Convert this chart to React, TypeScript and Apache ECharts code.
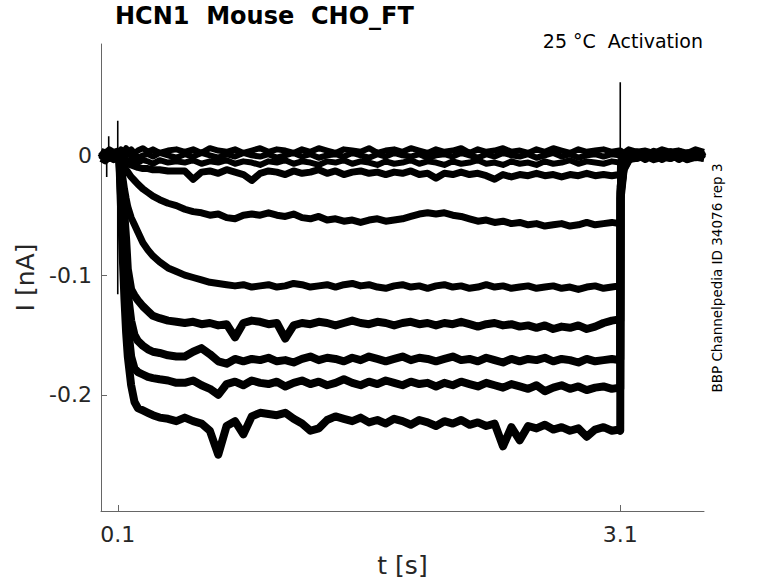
import React, { useEffect, useRef } from "react";
import * as echarts from "echarts";

// time grid (s)
const T = [
  0, 0.025, 0.05, 0.075, 0.1,
  0.11, 0.12, 0.13, 0.14, 0.15, 0.16, 0.18, 0.2, 0.22, 0.25, 0.28, 0.31, 0.35, 0.4, 0.45,
  0.5, 0.55, 0.6, 0.65, 0.7, 0.75, 0.8, 0.85, 0.9, 0.95,
  1.0, 1.05, 1.1, 1.15, 1.2, 1.25, 1.3, 1.35, 1.4, 1.45,
  1.5, 1.55, 1.6, 1.65, 1.7, 1.75, 1.8, 1.85, 1.9, 1.95,
  2.0, 2.05, 2.1, 2.15, 2.2, 2.25, 2.3, 2.35, 2.4, 2.45,
  2.5, 2.55, 2.6, 2.65, 2.7, 2.75, 2.8, 2.85, 2.9, 2.95,
  3.0, 3.05, 3.095, 3.1,
  3.102, 3.12, 3.15, 3.2, 3.25, 3.3, 3.35, 3.4, 3.45, 3.5, 3.55, 3.6,
];

// current traces (nA)
const B1 = [
  0.004, 0.002, 0.005, 0.003, 0.004,
  0.003, 0.005, 0.002, 0.004, 0.006, 0.003, 0.005, 0.002, 0.004, 0.006, 0.003, 0.005, 0.002, 0.004, 0.005,
  0.003, 0.005, 0.002, 0.006, 0.004, 0.003, 0.005, 0.002, 0.004, 0.006,
  0.003, 0.005, 0.004, 0.002, 0.005, 0.003, 0.006, 0.004, 0.002, 0.005,
  0.004, 0.003, 0.006, 0.002, 0.004, 0.005, 0.003, 0.006, 0.004, 0.002,
  0.005, 0.003, 0.004, 0.006, 0.002, 0.005, 0.003, 0.004, 0.006, 0.003,
  0.004, 0.002, 0.005, 0.003, 0.006, 0.004, 0.002, 0.005, 0.003, 0.004,
  0.005, 0.003, 0.004, 0.003,
  0.004, 0.002, 0.005, 0.003, 0.004, 0.002, 0.005, 0.003, 0.004, 0.002, 0.005, 0.003,
];
const B2 = [
  0, -0.002, 0.001, -0.001, 0.002,
  0, -0.001, 0.001, -0.002, 0, 0.002, -0.001, 0.001, -0.002, 0, 0.001, -0.001, 0.002, 0, -0.002,
  0.001, -0.001, 0.002, 0, -0.002, 0.001, -0.001, 0.002, 0, -0.001,
  0.001, -0.002, 0, 0.002, -0.001, 0.001, -0.002, 0, 0.001, -0.001,
  0.002, 0, -0.002, 0.001, -0.001, 0.002, 0, -0.001, 0.001, -0.002,
  0, 0.001, -0.001, 0.002, 0, -0.002, 0.001, -0.001, 0.002, 0,
  -0.001, 0.001, -0.002, 0, 0.002, -0.001, 0.001, -0.002, 0, 0.001,
  -0.001, 0.001, 0, -0.001,
  -0.003, -0.001, 0.001, -0.001, 0.002, 0, -0.002, 0.001, -0.001, 0.002, 0, -0.001,
];
const B3 = [
  -0.003, -0.005, -0.002, -0.004, -0.003,
  -0.004, -0.006, -0.003, -0.005, -0.004, -0.006, -0.003, -0.005, -0.006, -0.004, -0.005, -0.007, -0.004, -0.006, -0.005,
  -0.006, -0.004, -0.007, -0.005, -0.006, -0.004, -0.007, -0.005, -0.006, -0.008,
  -0.005, -0.006, -0.004, -0.007, -0.005, -0.006, -0.008, -0.005, -0.006, -0.004,
  -0.007, -0.005, -0.006, -0.008, -0.005, -0.007, -0.006, -0.004, -0.007, -0.005,
  -0.006, -0.008, -0.005, -0.007, -0.006, -0.004, -0.007, -0.006, -0.008, -0.005,
  -0.007, -0.006, -0.008, -0.005, -0.007, -0.006, -0.004, -0.007, -0.005, -0.006,
  -0.007, -0.005, -0.006, -0.007,
  -0.01, -0.004, -0.002, -0.003, -0.001, -0.004, -0.002, -0.003, -0.001, -0.004, -0.002, -0.003,
];
const I2 = [
  0, -0.003, 0.002, -0.001, 0,
  -0.001, -0.003, -0.004, -0.005, -0.006, -0.007, -0.008, -0.009, -0.01, -0.011, -0.011, -0.012, -0.012, -0.013, -0.013,
  -0.013, -0.02, -0.014, -0.013, -0.015, -0.012, -0.014, -0.016, -0.021, -0.015,
  -0.013, -0.014, -0.016, -0.013, -0.015, -0.014, -0.012, -0.015, -0.013, -0.016,
  -0.014, -0.013, -0.015, -0.014, -0.016, -0.014, -0.015, -0.013, -0.016, -0.015,
  -0.019, -0.015, -0.016, -0.014, -0.016, -0.015, -0.017, -0.02, -0.016, -0.018,
  -0.016, -0.017, -0.015, -0.017, -0.016, -0.018, -0.016, -0.017, -0.015, -0.017,
  -0.016, -0.017, -0.016, -0.017,
  -0.006, -0.002, 0, 0.003, -0.001, 0.002, -0.002, 0.001, -0.001, 0.002, 0, -0.002,
];
const I3 = [
  -0.001, 0.002, 0, -0.002, 0.001,
  -0.001, -0.004, -0.007, -0.01, -0.012, -0.014, -0.018, -0.021, -0.024, -0.028, -0.031, -0.034, -0.037, -0.04, -0.042,
  -0.045, -0.047, -0.048, -0.05, -0.049, -0.052, -0.053, -0.05, -0.049, -0.05,
  -0.048, -0.05, -0.051, -0.049, -0.052, -0.053, -0.051, -0.054, -0.053, -0.055,
  -0.054, -0.056, -0.054, -0.053, -0.055, -0.054, -0.053, -0.051, -0.049, -0.048,
  -0.049, -0.048, -0.05, -0.051, -0.053, -0.055, -0.054, -0.056, -0.055, -0.057,
  -0.056, -0.058, -0.057, -0.059, -0.058, -0.057, -0.059, -0.058, -0.056, -0.058,
  -0.057, -0.056, -0.057, -0.056,
  -0.012, -0.004, -0.001, 0.002, -0.002, 0.001, -0.001, 0.003, -0.002, 0, 0.002, -0.003,
];
const I4 = [
  0.002, -0.001, 0.001, -0.002, 0.001,
  -0.002, -0.008, -0.018, -0.028, -0.036, -0.043, -0.052, -0.058, -0.064, -0.073, -0.079, -0.084, -0.089, -0.094, -0.097,
  -0.1, -0.102, -0.104, -0.106, -0.107, -0.108, -0.109, -0.108, -0.11, -0.109,
  -0.108, -0.11, -0.109, -0.107, -0.108, -0.11, -0.109, -0.108, -0.11, -0.108,
  -0.107, -0.109, -0.108, -0.11, -0.111, -0.109, -0.108, -0.11, -0.109, -0.111,
  -0.109, -0.108, -0.11, -0.109, -0.111, -0.11, -0.108, -0.11, -0.109, -0.111,
  -0.11, -0.109, -0.111, -0.11, -0.109, -0.111, -0.11, -0.112, -0.11, -0.109,
  -0.111, -0.11, -0.109, -0.11,
  -0.02, -0.007, -0.002, -0.001, 0.002, -0.002, 0.001, 0.003, -0.001, 0.002, -0.002, 0.001,
];
const I5 = [
  -0.002, 0.001, -0.001, 0.002, 0,
  -0.003, -0.015, -0.03, -0.05, -0.07, -0.095, -0.112, -0.117, -0.121, -0.126, -0.13, -0.134, -0.136, -0.138, -0.139,
  -0.14, -0.139, -0.141, -0.14, -0.142, -0.141, -0.152, -0.14, -0.138, -0.139,
  -0.141, -0.14, -0.153, -0.142, -0.14, -0.141, -0.139, -0.14, -0.142, -0.14,
  -0.138, -0.14, -0.141, -0.139, -0.14, -0.142, -0.14, -0.139, -0.141, -0.14,
  -0.142, -0.14, -0.141, -0.139, -0.141, -0.143, -0.141, -0.14, -0.142, -0.141,
  -0.143, -0.142, -0.144, -0.142, -0.145, -0.143, -0.144, -0.142, -0.145, -0.143,
  -0.14, -0.138, -0.137, -0.138,
  -0.026, -0.009, -0.002, 0.002, -0.001, 0.001, -0.003, 0.002, 0, -0.002, 0.003, -0.001,
];
const I6 = [
  0.001, -0.002, 0.002, -0.001, 0.001,
  -0.003, -0.025, -0.05, -0.075, -0.097, -0.115, -0.138, -0.15, -0.155, -0.159, -0.162, -0.164, -0.165, -0.167, -0.168,
  -0.168, -0.164, -0.161, -0.166, -0.172, -0.174, -0.17, -0.172, -0.17, -0.171,
  -0.169, -0.172, -0.171, -0.173, -0.17, -0.168, -0.171, -0.169, -0.17, -0.172,
  -0.169, -0.171, -0.168, -0.17, -0.172, -0.17, -0.168, -0.171, -0.169, -0.17,
  -0.172, -0.17, -0.168, -0.171, -0.17, -0.172, -0.169, -0.171, -0.173, -0.17,
  -0.172, -0.17, -0.171, -0.169, -0.172, -0.17, -0.171, -0.173, -0.17, -0.172,
  -0.171, -0.17, -0.171, -0.17,
  -0.03, -0.01, -0.003, 0.001, -0.003, 0.002, 0, -0.002, 0.003, -0.001, 0.001, -0.002,
];
const I7 = [
  -0.001, 0.002, -0.002, 0.001, -0.001,
  -0.004, -0.035, -0.068, -0.098, -0.122, -0.142, -0.168, -0.178, -0.181, -0.183, -0.185, -0.186, -0.187, -0.188, -0.19,
  -0.19, -0.188, -0.192, -0.195, -0.2, -0.191, -0.189, -0.192, -0.188, -0.19,
  -0.191, -0.189, -0.193, -0.19, -0.188, -0.191, -0.189, -0.192, -0.19, -0.187,
  -0.19, -0.192, -0.189, -0.191, -0.188, -0.19, -0.192, -0.189, -0.191, -0.19,
  -0.193, -0.19, -0.192, -0.189, -0.191, -0.193, -0.19, -0.192, -0.194, -0.191,
  -0.193, -0.195, -0.192, -0.197, -0.194, -0.192, -0.195, -0.193, -0.196, -0.194,
  -0.193, -0.195, -0.194, -0.195,
  -0.032, -0.011, -0.003, -0.002, 0.002, -0.001, 0.003, -0.002, 0.001, -0.003, 0.002, 0,
];
const I8 = [
  0.002, -0.003, 0.001, -0.002, 0.002,
  -0.005, -0.045, -0.085, -0.12, -0.148, -0.168, -0.192, -0.206, -0.211, -0.213, -0.215, -0.217, -0.219, -0.22, -0.222,
  -0.219, -0.222, -0.224, -0.23, -0.25, -0.226, -0.222, -0.233, -0.218, -0.215,
  -0.216, -0.217, -0.215, -0.22, -0.224, -0.23, -0.228, -0.221, -0.218, -0.22,
  -0.222, -0.219, -0.223, -0.221, -0.224, -0.22, -0.222, -0.225, -0.221, -0.223,
  -0.226, -0.222, -0.224, -0.221, -0.225, -0.223, -0.226, -0.224, -0.243, -0.227,
  -0.238, -0.226, -0.228, -0.225, -0.229, -0.227, -0.23, -0.228, -0.235, -0.229,
  -0.227, -0.23, -0.229, -0.23,
  -0.036, -0.012, -0.004, 0.002, -0.002, 0.003, -0.001, 0.002, -0.003, 0.001, 0.003, -0.002,
];

const TRACES = [B1, B2, B3, I2, I3, I4, I5, I6, I7, I8];
const TRACE_WIDTHS = [6, 6, 6, 7, 7, 7, 8, 8, 8, 8];

// stimulus artifacts (vertical spikes)
const ARTIFACT_T = [0.034, 0.046, 0.1, 3.1];
const ARTIFACT_HIGH = [-0.004, 0.016, 0.029, 0.061];
const ARTIFACT_LOW = [-0.018, 0.002, -0.116, 0];

const X_TICKS = [0.1, 3.1];
const Y_TICKS = [0, -0.1, -0.2];

const FONT = "DejaVu Sans";
const AXIS_COLOR = "#666666";
const TEXT_COLOR = "#262626";

export default function App() {
  const ref = useRef<HTMLDivElement>(null);

  useEffect(() => {
    document.body.style.margin = "0";
    if (!ref.current) return;
    const chart = echarts.init(ref.current, undefined, { renderer: "svg" });

    const traceSeries = TRACES.map((vals, k) => ({
      type: "line",
      data: T.map((t, i) => [t, vals[i]]),
      showSymbol: false,
      symbol: "none",
      silent: true,
      lineStyle: { color: "#000", width: TRACE_WIDTHS[k], join: "round" },
      z: 2,
    }));

    const artifactSeries = ARTIFACT_T.map((t, i) => ({
      type: "line",
      data: [
        [t, ARTIFACT_HIGH[i]],
        [t, ARTIFACT_LOW[i]],
      ],
      showSymbol: false,
      symbol: "none",
      silent: true,
      lineStyle: { color: "#000", width: 1.6 },
      z: 3,
    }));

    const option = {
      animation: false,
      textStyle: { fontFamily: FONT },
      grid: { left: 101, right: 74, top: 44, bottom: 71 },
      xAxis: {
        type: "value",
        min: 0,
        max: 3.6,
        axisLine: { show: true, onZero: false, lineStyle: { color: AXIS_COLOR, width: 1 } },
        axisTick: { show: true, inside: true, length: 6, customValues: X_TICKS, lineStyle: { color: AXIS_COLOR } },
        axisLabel: {
          customValues: X_TICKS,
          formatter: (v: number) => String(v),
          fontSize: 22,
          color: TEXT_COLOR,
          margin: 12,
          fontFamily: FONT,
        },
        splitLine: { show: false },
        name: "t [s]",
        nameLocation: "middle",
        nameGap: 42,
        nameTextStyle: { fontSize: 25, color: TEXT_COLOR, fontFamily: FONT },
      },
      yAxis: {
        type: "value",
        min: -0.297,
        max: 0.093,
        axisLine: { show: true, onZero: false, lineStyle: { color: AXIS_COLOR, width: 1 } },
        axisTick: { show: true, inside: true, length: 6, customValues: Y_TICKS, lineStyle: { color: AXIS_COLOR } },
        axisLabel: {
          customValues: Y_TICKS,
          formatter: (v: number) => (v === 0 ? "0" : String(v)),
          fontSize: 22,
          color: TEXT_COLOR,
          margin: 9,
          fontFamily: FONT,
        },
        splitLine: { show: false },
        name: "I [nA]",
        nameLocation: "middle",
        nameGap: 56,
        nameTextStyle: { fontSize: 25, color: TEXT_COLOR, fontFamily: FONT },
      },
      graphic: [
        {
          type: "text",
          left: 115,
          top: 4,
          style: {
            text: "HCN1  Mouse  CHO_FT",
            font: `bold 24px "${FONT}"`,
            fill: "#000",
          },
        },
        {
          type: "text",
          x: 703,
          y: 41,
          style: {
            text: "25 °C  Activation",
            font: `19px "${FONT}"`,
            fill: "#000",
            align: "right",
            verticalAlign: "middle",
          },
        },
        {
          type: "text",
          x: 717,
          y: 278,
          rotation: Math.PI / 2,
          style: {
            text: "BBP Channelpedia ID 34076 rep 3",
            font: `13.5px "${FONT}"`,
            fill: "#000",
            align: "center",
            verticalAlign: "middle",
          },
        },
      ],
      series: [...traceSeries, ...artifactSeries],
    };

    chart.setOption(option as any);
    return () => chart.dispose();
  }, []);

  return <div ref={ref} style={{ width: 778, height: 583 }} />;
}
